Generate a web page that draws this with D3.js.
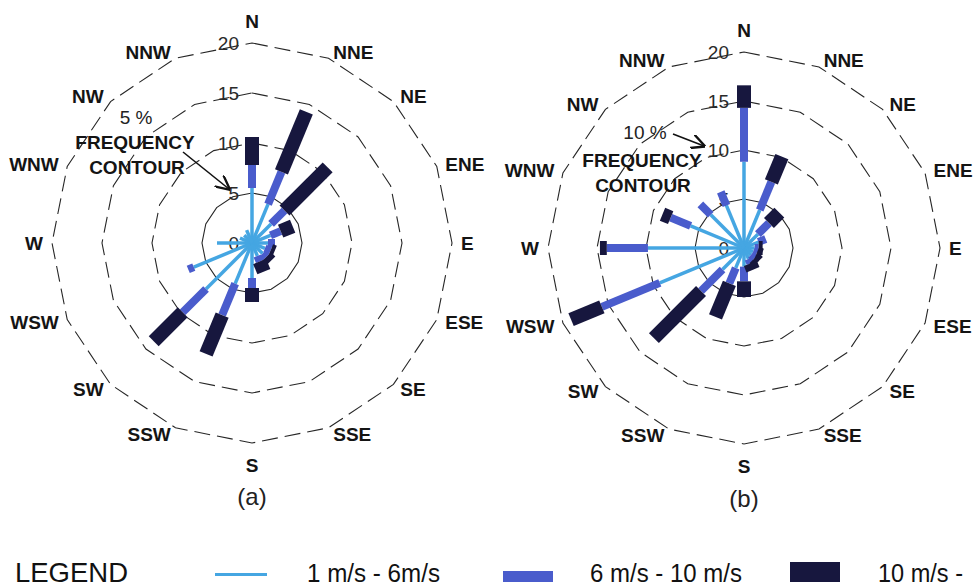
<!DOCTYPE html>
<html>
<head>
<meta charset="utf-8">
<script src="https://cdn.jsdelivr.net/npm/d3@7"></script>
<style>
  html, body { margin: 0; padding: 0; background: #ffffff; }
  svg { display: block; }
</style>
</head>
<body>
<svg id="chart" width="980" height="588"></svg>
<script>
// ---------- DATA ----------
const directions = ["N","NNE","NE","ENE","E","ESE","SE","SSE","S","SSW","SW","WSW","W","WNW","NW","NNW"];
const ringTicks = [5, 10, 15, 20];
const tickLabels = ["0", "5", "10", "15", "20"];
const bandNames = ["1 m/s - 6m/s", "6 m/s - 10 m/s", "10 m/s -"];

// (a) frequency (%) per speed band, per direction
const aLow  = [5.5, 4.2, 2.7, 2.0, 1.6, 1.4, 1.5, 1.4, 3.5, 4.4, 6.5, 6.3, 3.5, 1.3, 1.1, 1.4];
const aMid  = [2.3, 3.5, 1.9, 1.1, 0.7, 0.6, 0.5, 0.6, 1.0, 3.4, 3.3, 0.6, 0.0, 0.0, 0.0, 0.0];
const aHigh = [2.8, 6.5, 6.1, 1.3, 0.0, 0.4, 0.6, 1.1, 1.4, 4.2, 4.1, 0.0, 0.0, 0.0, 0.0, 0.0];

// (b)
const bLow  = [8.8, 4.2, 2.0, 1.6, 1.1, 1.0, 1.0, 1.2, 1.9, 2.2, 3.1, 9.3, 9.8, 5.9, 4.8, 4.7];
const bMid  = [5.5, 3.1, 1.6, 0.8, 0.4, 0.4, 0.5, 0.5, 1.5, 1.7, 3.1, 6.4, 4.2, 2.2, 1.5, 1.5];
const bHigh = [2.3, 2.8, 1.5, 0.0, 0.4, 0.5, 0.5, 0.7, 1.6, 3.7, 6.8, 3.4, 0.7, 0.9, 0.0, 0.0];

// ---------- STYLE ----------
const bandColors = ["#45a6e2", "#4a5ccc", "#17173e"];
const bandWidths = [3.5, 8, 14];
const FONT = "Liberation Sans, Arial, sans-serif";

const svg = d3.select("#chart");

function drawRose(cx, cy, outerR, low, mid, high, opts) {
  const g = svg.append("g").attr("transform", `translate(${cx},${cy})`);
  const r = d3.scaleLinear().domain([0, 20]).range([0, outerR]);
  const ang = d3.scalePoint().domain(directions).range([0, 2 * Math.PI * 15 / 16]);

  // rings (16-gon)
  const ringLine = d3.lineRadial()
    .angle(d => ang(d))
    .curve(d3.curveLinearClosed);
  ringTicks.forEach(t => {
    g.append("path")
      .attr("d", ringLine.radius(r(t))(directions))
      .attr("fill", "none")
      .attr("stroke", "#262626")
      .attr("stroke-width", 1.1)
      .attr("stroke-dasharray", t === 5 ? null : "16,7");
  });

  // tick labels along north axis (under the bars)
  g.selectAll(null).data(tickLabels).enter().append("text")
    .attr("x", opts.tickDx)
    .attr("y", d => -r(+d))
    .attr("dy", "0.36em")
    .attr("text-anchor", "end")
    .attr("font-family", FONT)
    .attr("font-size", 19)
    .attr("fill", "#2a2a2a")
    .text(d => d);

  // bars
  const data = directions.map((d, i) => {
    const c1 = low[i], c2 = c1 + mid[i], c3 = c2 + high[i];
    return { dir: d, segs: [[0, c1], [c1, c2], [c2, c3]] };
  });
  [0, 1, 2].forEach(b => {
    g.selectAll(null)
      .data(data.filter(d => d.segs[b][1] > d.segs[b][0]))
      .enter().append("line")
      .attr("x1", d => d3.pointRadial(ang(d.dir), r(d.segs[b][0]))[0])
      .attr("y1", d => d3.pointRadial(ang(d.dir), r(d.segs[b][0]))[1])
      .attr("x2", d => d3.pointRadial(ang(d.dir), r(d.segs[b][1]))[0])
      .attr("y2", d => d3.pointRadial(ang(d.dir), r(d.segs[b][1]))[1])
      .attr("stroke", bandColors[b])
      .attr("stroke-width", bandWidths[b])
      .attr("stroke-linecap", "butt");
  });

  // direction labels
  const LR = outerR + 7;
  g.selectAll(null).data(directions).enter().append("text")
    .each(function(d) {
      const a = ang(d);
      const s = Math.sin(a), c = Math.cos(a);
      const t = d3.select(this);
      if (Math.abs(s) < 0.01) {
        t.attr("x", 0).attr("y", -c * (LR + 15)).attr("text-anchor", "middle");
      } else {
        t.attr("x", LR * s + (s > 0 ? 2 : -2))
         .attr("y", -LR * c)
         .attr("text-anchor", s > 0 ? "start" : "end");
      }
    })
    .attr("dy", "0.36em")
    .attr("font-family", FONT)
    .attr("font-weight", "bold")
    .attr("font-size", 19)
    .attr("fill", "#141414")
    .text(d => d);

  // caption
  g.append("text")
    .attr("x", 0).attr("y", opts.captionY)
    .attr("text-anchor", "middle")
    .attr("font-family", FONT)
    .attr("font-size", 24)
    .attr("fill", "#222")
    .text(opts.caption);
}

drawRose(252, 243, 200, aLow, aMid, aHigh, { tickDx: -13, captionY: 262, caption: "(a)" });
drawRose(744, 248, 196, bLow, bMid, bHigh, { tickDx: -15, captionY: 259, caption: "(b)" });

// ---------- annotations ----------
const defs = svg.append("defs");
defs.append("marker")
  .attr("id", "arr").attr("viewBox", "0 0 10 10")
  .attr("refX", 9).attr("refY", 5)
  .attr("markerWidth", 9).attr("markerHeight", 9)
  .attr("orient", "auto")
  .append("path").attr("d", "M0,0 L10,5 L0,10")
  .attr("fill", "none").attr("stroke", "#111").attr("stroke-width", 1.6);

function annot(pctText, pctX, pctY, fx, fy, cx, cy, arrow) {
  svg.append("text").attr("x", pctX).attr("y", pctY).attr("text-anchor", "middle")
    .attr("font-family", FONT).attr("font-size", 19).attr("fill", "#222").text(pctText);
  svg.append("text").attr("x", fx).attr("y", fy).attr("text-anchor", "middle")
    .attr("font-family", FONT).attr("font-weight", "bold").attr("font-size", 19).attr("fill", "#141414").text("FREQUENCY");
  svg.append("text").attr("x", cx).attr("y", cy).attr("text-anchor", "middle")
    .attr("font-family", FONT).attr("font-weight", "bold").attr("font-size", 19).attr("fill", "#141414").text("CONTOUR");
  svg.append("line")
    .attr("x1", arrow[0]).attr("y1", arrow[1]).attr("x2", arrow[2]).attr("y2", arrow[3])
    .attr("stroke", "#111").attr("stroke-width", 1.6).attr("marker-end", "url(#arr)");
}
annot("5 %", 136, 124, 135, 149, 137, 174, [183, 152, 229, 189]);
annot("10 %", 645, 139, 642, 167, 643, 192, [673, 134, 704, 146]);

// ---------- legend ----------
const lg = svg.append("g").attr("font-family", FONT).attr("fill", "#111");
lg.append("text").attr("x", 15).attr("y", 582).attr("font-size", 28)
  .attr("textLength", 113).attr("lengthAdjust", "spacingAndGlyphs").text("LEGEND");
lg.append("line").attr("x1", 215).attr("x2", 267).attr("y1", 574.5).attr("y2", 574.5)
  .attr("stroke", bandColors[0]).attr("stroke-width", 3);
lg.append("rect").attr("x", 503).attr("y", 571).attr("width", 50).attr("height", 11).attr("fill", bandColors[1]);
lg.append("rect").attr("x", 790).attr("y", 562).attr("width", 50).attr("height", 20).attr("fill", bandColors[2]);
const legendText = [
  { x: 307, w: 133 },
  { x: 590, w: 152 },
  { x: 878, w: 85 }
];
lg.selectAll(null).data(bandNames).enter().append("text")
  .attr("x", (d, i) => legendText[i].x)
  .attr("y", 582)
  .attr("font-size", 26)
  .attr("textLength", (d, i) => legendText[i].w)
  .attr("lengthAdjust", "spacingAndGlyphs")
  .text(d => d);
</script>
</body>
</html>
